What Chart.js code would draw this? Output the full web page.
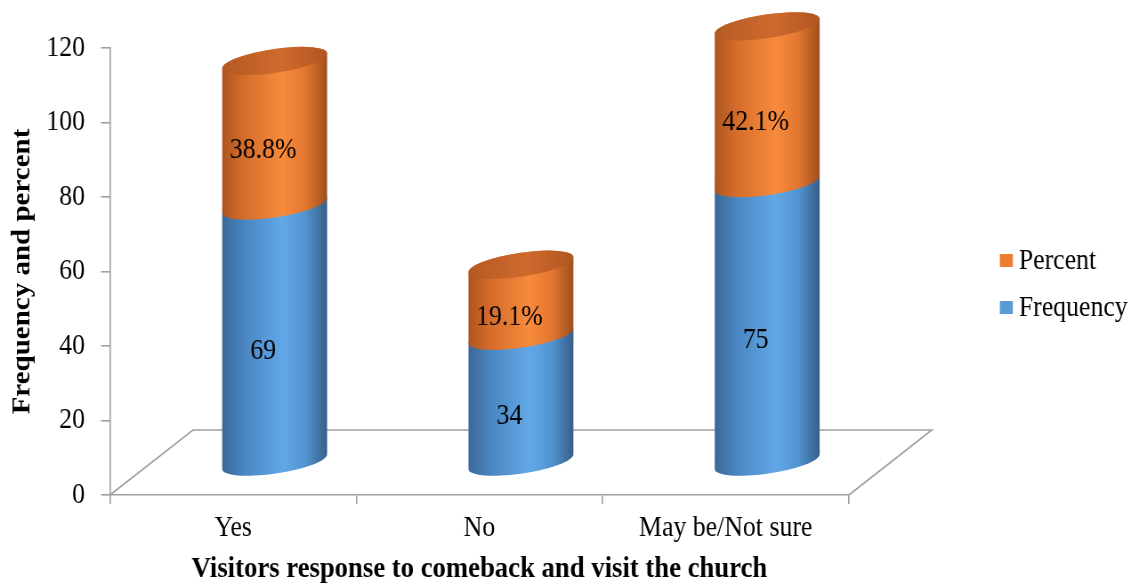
<!DOCTYPE html>
<html>
<head>
<meta charset="utf-8">
<script src="https://cdn.jsdelivr.net/npm/chart.js@4.4.1/dist/chart.umd.min.js"></script>
<style>
  html, body { margin: 0; padding: 0; background: #ffffff; overflow: hidden; }
  #chart { display: block; }
</style>
</head>
<body>
<canvas id="chart" width="1280" height="584" style="width:1139px;height:584px"></canvas>
<script>
// ---- data ----
const categories = ['Yes', 'No', 'May be/Not sure'];
const frequency = [69, 34, 75];
const percent = [38.8, 19.1, 42.1];
const yTicks = [0, 20, 40, 60, 80, 100, 120];
const seriesNames = ['Frequency', 'Percent'];

// ---- look ----
// The canvas is laid out wider than it is shown, so every glyph comes out slightly condensed.
const SQUEEZE = 0.89;
const CANVAS_W = 1280, CANVAS_H = 584;
const AREA_LEFT = 110 / SQUEEZE, AREA_RIGHT = 849 / SQUEEZE;
const AREA_TOP = 48, AREA_BOTTOM = 495;
const DEPTH_X = 83 / SQUEEZE, DEPTH_Y = -65;      // floor depth offset
const SHEAR = 0.125;                                // tilt of the cylinder ellipses
const ELLIPSE_RY = 12;
const FONT = "'Liberation Serif', 'Times New Roman', serif";
const TEXT_SIZE = 29;
const AXIS_GRAY = '#a0a0a0';
const BLUE = '#5b9bd5', ORANGE = '#ed7d31';

const blueStops = [[0, '#3a6898'], [0.2, '#4a85c0'], [0.58, '#62a8e8'], [0.8, '#5193d0'], [1, '#365f88']];
const orangeStops = [[0, '#ad551f'], [0.2, '#d46c2b'], [0.58, '#f88b3c'], [0.8, '#e27630'], [1, '#9f4f1c']];
const capStops = [[0, '#b55a24'], [0.55, '#cf6a2d'], [1, '#b15622']];

function sideGradient(ctx, r, stops) {
  const g = ctx.createLinearGradient(-r, 0, r, 0);
  stops.forEach(([o, c]) => g.addColorStop(o, c));
  return g;
}

// one stacked piece of a cylinder, from pixel row `top` down to `bottom`
function drawSegment(ctx, cx, top, bottom, r, stops) {
  ctx.save();
  ctx.translate(cx, 0);
  ctx.transform(1, -SHEAR, 0, 1, 0, 0);
  ctx.beginPath();
  ctx.moveTo(-r, top);
  ctx.lineTo(-r, bottom);
  ctx.ellipse(0, bottom, r, ELLIPSE_RY, 0, Math.PI, 0, true);
  ctx.lineTo(r, top);
  ctx.ellipse(0, top, r, ELLIPSE_RY, 0, 0, Math.PI, true);
  ctx.closePath();
  ctx.fillStyle = sideGradient(ctx, r, stops);
  ctx.fill();
  ctx.restore();
}

function drawCap(ctx, cx, top, r) {
  ctx.save();
  ctx.translate(cx, 0);
  ctx.transform(1, -SHEAR, 0, 1, 0, 0);
  ctx.beginPath();
  ctx.ellipse(0, top, r, ELLIPSE_RY, 0, 0, Math.PI * 2);
  ctx.fillStyle = sideGradient(ctx, r, capStops);
  ctx.fill();
  ctx.restore();
}

const cylinderPlugin = {
  id: 'cylinders',
  beforeDatasetsDraw(chart) {
    // floor of the 3-D plot area
    const { ctx, chartArea } = chart;
    const y0 = chart.scales.y.getPixelForValue(0);
    ctx.save();
    ctx.strokeStyle = AXIS_GRAY;
    ctx.lineWidth = 1.6;
    ctx.beginPath();
    ctx.moveTo(chartArea.left, y0);
    ctx.lineTo(chartArea.left + DEPTH_X, y0 + DEPTH_Y);
    ctx.lineTo(chartArea.right + DEPTH_X, y0 + DEPTH_Y);
    ctx.lineTo(chartArea.right, y0);
    ctx.stroke();
    ctx.restore();
  },
  afterDatasetsDraw(chart) {
    const ctx = chart.ctx;
    const dx = DEPTH_X / 2, dy = DEPTH_Y / 2;
    const metaF = chart.getDatasetMeta(0);
    const metaP = chart.getDatasetMeta(1);
    metaF.data.forEach((barF, i) => {
      const f = barF.getProps(['x', 'y', 'base', 'width'], true);
      const p = metaP.data[i].getProps(['x', 'y', 'base', 'width'], true);
      const cx = f.x + dx, r = f.width / 2;
      drawSegment(ctx, cx, f.y + dy, f.base + dy, r, blueStops);
      drawSegment(ctx, cx, p.y + dy, p.base + dy, r, orangeStops);
      drawCap(ctx, cx, p.y + dy, r);
    });
    // value labels
    ctx.save();
    ctx.fillStyle = '#000';
    ctx.font = `${TEXT_SIZE}px ${FONT}`;
    ctx.textAlign = 'center';
    ctx.textBaseline = 'middle';
    const lx = 30 / SQUEEZE, ly = -15;
    metaF.data.forEach((barF, i) => {
      const f = barF.getProps(['x', 'y', 'base'], true);
      const p = metaP.data[i].getProps(['x', 'y', 'base'], true);
      ctx.fillText(String(frequency[i]), f.x + lx, (f.y + f.base) / 2 + ly);
      ctx.fillText(percent[i].toFixed(1) + '%', p.x + lx, (p.y + p.base) / 2 + ly);
    });
    ctx.restore();
  },
  afterDraw(chart) {
    // legend on the right, Percent above Frequency
    const ctx = chart.ctx;
    const items = [
      { label: seriesNames[1], color: ORANGE, y: 260 },
      { label: seriesNames[0], color: BLUE, y: 307 }
    ];
    ctx.save();
    ctx.font = `${TEXT_SIZE}px ${FONT}`;
    ctx.textBaseline = 'middle';
    ctx.textAlign = 'left';
    items.forEach(it => {
      ctx.fillStyle = it.color;
      ctx.fillRect(1000 / SQUEEZE, it.y - 6, 13 / SQUEEZE, 13);
      ctx.fillStyle = '#000';
      ctx.fillText(it.label, 1019 / SQUEEZE, it.y + 1);
    });
    ctx.restore();
  }
};

new Chart(document.getElementById('chart'), {
  type: 'bar',
  data: {
    labels: categories,
    datasets: [
      { label: seriesNames[0], data: frequency, backgroundColor: 'rgba(0,0,0,0)', borderWidth: 0 },
      { label: seriesNames[1], data: percent, backgroundColor: 'rgba(0,0,0,0)', borderWidth: 0 }
    ]
  },
  options: {
    responsive: false,
    devicePixelRatio: 1,
    animation: false,
    events: [],
    categoryPercentage: 1,
    barPercentage: 0.426,
    layout: { padding: { left: 0, right: CANVAS_W - AREA_RIGHT, top: AREA_TOP, bottom: 0 } },
    plugins: { legend: { display: false }, tooltip: { enabled: false } },
    scales: {
      x: {
        stacked: true,
        grid: { drawOnChartArea: false, drawTicks: true, tickLength: 9, color: AXIS_GRAY, lineWidth: 1.6 },
        border: { display: true, color: AXIS_GRAY, width: 1.6 },
        ticks: { color: '#000', padding: 7, font: { family: FONT, size: TEXT_SIZE } },
        title: {
          display: true, text: 'Visitors response to comeback and visit the church',
          color: '#000', font: { family: FONT, size: 30, weight: 'bold', lineHeight: 1 },
          padding: { top: 0, bottom: 0 }
        },
        afterFit(s) { s.height = CANVAS_H - AREA_BOTTOM; }
      },
      y: {
        stacked: true,
        min: 0, max: 120,
        grid: { drawOnChartArea: false, drawTicks: true, tickLength: 10, color: AXIS_GRAY, lineWidth: 1.6 },
        border: { display: true, color: AXIS_GRAY, width: 1.6 },
        ticks: { color: '#000', padding: 18, font: { family: FONT, size: TEXT_SIZE } },
        afterBuildTicks(s) { s.ticks = yTicks.map(v => ({ value: v })); },
        title: {
          display: true, text: 'Frequency and percent',
          color: '#000', font: { family: FONT, size: 29, weight: 'bold', lineHeight: 1 },
          padding: { top: 11.5, bottom: 0 }
        },
        afterFit(s) { s.width = AREA_LEFT; }
      }
    }
  },
  plugins: [cylinderPlugin]
});
</script>
</body>
</html>
